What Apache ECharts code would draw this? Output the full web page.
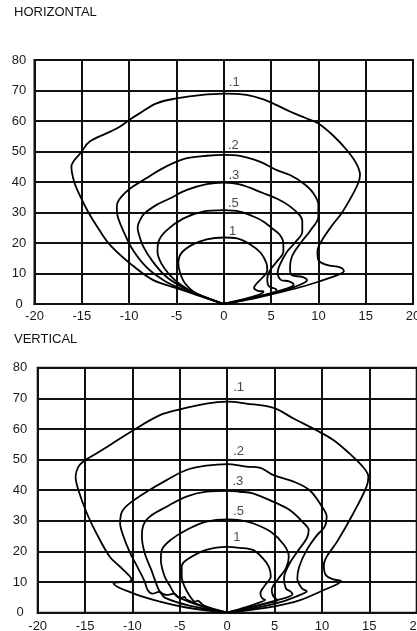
<!DOCTYPE html>
<html><head><meta charset="utf-8">
<script src="https://cdn.jsdelivr.net/npm/echarts@6/dist/echarts.min.js"></script>
<style>html,body{margin:0;padding:0;background:#fff}#c{width:417px;height:631px}</style>
</head><body><div id="c"></div>
<script>
// ---- data ----
const panelTitles = ['HORIZONTAL', 'VERTICAL'];
const xMin = -20, xMax = 20, xStep = 5;
const yMin = 0, yMax = 80, yStep = 10;
const curveNames = ['.1', '.2', '.3', '.5', '1'];

const hCurve01 = [[0,0],[-2.9,3.0],[-5.0,5.2],[-7.5,7.9],[-9.9,13.3],[-12.0,19.3],[-13.2,24.5],[-14.3,30],[-15.2,35.5],[-15.8,40],[-16.1,45],[-15.0,50],[-14.2,53.2],[-12.0,56.5],[-11,58.1],[-10,60.3],[-8.9,62.5],[-7.1,65.8],[-5,67.4],[-2.5,68.5],[0,69],[2.4,68.6],[4.2,67.1],[5.6,65.2],[7.0,63.1],[8.7,60.9],[10,59.2],[11.5,55.4],[13,50.5],[14,46.1],[14.4,42.3],[14.2,39.6],[13.5,35.2],[12.4,29.5],[11.6,26.4],[10.4,21],[9.9,17.2],[10,14.4],[10.9,12.8],[12.3,12.0],[12.7,10.8],[12.2,9.7],[10,7.3],[7.5,5.0],[4.9,3.1],[2.5,1.4],[0,0]];
const hCurve02 = [[0,0],[-2.9,3.2],[-4.6,5.1],[-6.4,7.9],[-8.2,12.2],[-9.6,17.7],[-10.5,23.2],[-11.2,28.6],[-11.3,31.9],[-11.1,34],[-10.4,36.5],[-9.6,38.5],[-8.2,41.2],[-6.8,43.9],[-5.4,46.1],[-3.9,47.8],[-1.8,48.6],[0,48.9],[1.7,48.6],[3.8,46.7],[5.6,43.9],[7,42.3],[8.4,39.6],[9.4,36.6],[10.0,32.5],[10,28.6],[9.2,24.3],[8.1,19.9],[7.2,15.5],[7.0,11.7],[7.2,9.4],[8.3,8.9],[8.8,7.8],[8.4,6.8],[7.3,5.4],[5,3.4],[2.5,1.5],[0,0]];
const hCurve03 = [[0,0],[-2.9,3.4],[-4.5,5.7],[-6.1,9.0],[-7.5,13.9],[-8.5,18.8],[-9.0,23.2],[-9.1,25.2],[-8.9,27.2],[-8.4,29.6],[-7.1,32.5],[-5.7,34.6],[-3.9,37.4],[-1.8,39.3],[0,39.8],[1.7,39.2],[4.2,36.3],[5.9,34.1],[7.0,32.0],[8.0,29.2],[8.3,27.2],[8.3,23.7],[7.6,20.4],[6.7,17.2],[6.0,13.3],[5.7,10.3],[6.0,8.0],[6.9,7.4],[7.4,6.3],[7.0,5.5],[5,3.6],[2.5,1.6],[0,0]];
const hCurve05 = [[0,0],[-2.9,3.3],[-4.5,6.2],[-5.7,9.5],[-6.6,13.3],[-7.0,17.2],[-6.9,20.4],[-6.1,24.0],[-4.3,28.0],[-2.2,30.3],[0,30.8],[1.7,30.3],[3.5,28.2],[4.3,26.8],[5.2,24.6],[5.9,22.8],[6.3,19.9],[6.3,17.2],[5.6,13.9],[4.9,11.1],[4.6,8.4],[4.75,5.9],[5.5,4.9],[5.6,4.1],[4.5,3.1],[2.5,1.7],[0,0]];
const hCurve1 = [[0,0],[-2.9,3.5],[-4.1,6.8],[-4.6,10.1],[-4.8,13.3],[-4.5,16.6],[-3.4,19.3],[-1.8,21.2],[0,21.8],[1.4,21.5],[2.8,19.5],[3.9,16.8],[4.5,13.5],[4.6,11.1],[4.2,9.0],[3.5,6.8],[3.2,5.3],[3.6,4.3],[4.2,4.1],[3.8,3.2],[2.5,1.9],[0,0]];

const vCurve01 = [[0,0],[-4.3,1.7],[-7.1,3.6],[-9.9,6.3],[-12,9.6],[-11.6,9.9],[-10.4,10.1],[-10.1,10.9],[-10.4,12.3],[-11.3,15],[-12.4,18.3],[-13.8,25.9],[-14.8,32.4],[-15.7,40],[-16,44.4],[-15.7,47.7],[-15,49.8],[-13.8,52],[-12.4,54.7],[-9.9,59.6],[-7.1,64.5],[-5,66.4],[-2.2,68.3],[0,68.9],[2,68.3],[4.9,66.9],[7,63.4],[9.4,59.6],[11.2,56.4],[12.9,52],[14.3,47.7],[14.9,44.4],[14.7,41.1],[13.3,32.4],[11.6,23.2],[10.5,18.3],[10.2,15.6],[10.4,12.3],[11.2,10.9],[12,10.4],[11.6,9.3],[10.2,7.4],[7.7,4.1],[5,2.1],[0,0]];
const vCurve02 = [[0,0],[-4,2.3],[-6.6,4.9],[-7.2,6.8],[-7.9,6.2],[-8.4,7.4],[-8.7,10.1],[-9.4,14.5],[-10.3,19.9],[-11,25.4],[-11.3,29.2],[-11.1,33],[-10.3,35.7],[-8.5,39.5],[-6.4,43.3],[-4.3,46.6],[-2.2,48],[0,48.5],[2,47.7],[3.4,47.4],[4.9,44.9],[7,42.8],[8.7,40],[9.9,35.1],[10.5,31.3],[10.3,28.1],[9.5,25.4],[8.4,20.5],[7.6,15],[7.4,11.2],[7.9,7.9],[8.4,7.0],[8.0,6.2],[6,3.8],[3,1.6],[0,0]];
const vCurve03 = [[0,0],[-2.5,1.9],[-5.1,4.9],[-5.6,6.2],[-6.4,5.8],[-7.1,6.9],[-7.5,9.6],[-8,13.9],[-8.7,19.4],[-9,24.8],[-8.9,28.1],[-8.2,31.3],[-6.4,34.6],[-4.3,37.9],[-2.2,39.5],[0,39.8],[1.3,39.5],[2.7,39],[4.9,36.2],[6.6,33.5],[8,29.5],[8.6,27],[8.4,24.3],[7.4,19.9],[6.5,15.6],[6,11.2],[6.2,7.9],[6.7,6.9],[6.9,6.0],[5,3.9],[2.5,1.8],[0,0]];
const vCurve05 = [[0,0],[-2.5,2.1],[-4.3,4.3],[-4.5,5.2],[-4.9,4.8],[-5.5,5.9],[-6,8.5],[-6.6,11.8],[-7,17.2],[-6.9,20.5],[-6,23.7],[-4.3,27],[-2.2,29.7],[0,30.5],[1.3,30.2],[2.7,29.2],[4.6,26.4],[6,22.1],[6.5,18.3],[6.2,14.5],[5.3,10.7],[4.7,7.4],[4.9,5.2],[5.3,4.1],[4.5,3.3],[2.5,1.8],[0,0]];
const vCurve1 = [[0,0],[-2.5,2.4],[-3.1,3.9],[-3.4,3.6],[-3.9,5.2],[-4.5,8.5],[-4.8,11.8],[-4.8,15],[-4.3,17.2],[-2.2,20.5],[0,21.5],[1.3,21.2],[2.7,20.5],[3.7,18.0],[4.4,15],[4.6,11.8],[4,9.0],[3.5,6.3],[3.7,4.7],[4.0,4.2],[3.3,3.2],[2,1.8],[0,0]];

const hLabelPos = [[0.53,72.8],[0.45,51.9],[0.5,42.2],[0.45,32.9],[0.56,23.9]];
const vLabelPos = [[0.63,73.4],[0.63,52.7],[0.55,42.8],[0.63,33.1],[0.63,24.5]];

const hCurves = [hCurve01, hCurve02, hCurve03, hCurve05, hCurve1];
const vCurves = [vCurve01, vCurve02, vCurve03, vCurve05, vCurve1];

// ---- chart ----
const FONT = '"Liberation Sans", Arial, sans-serif';
const lineColor = '#111';
const chart = echarts.init(document.getElementById('c'));

function xAxis(gi) {
  return {
    type: 'value', gridIndex: gi, min: xMin, max: xMax, interval: xStep,
    axisLine: { show: true, onZero: false, lineStyle: { color: lineColor, width: 2 } },
    axisTick: { show: false },
    splitLine: { show: true, lineStyle: { color: lineColor, width: 2 } },
    axisLabel: { margin: gi === 0 ? 6 : 7, fontFamily: FONT, fontSize: 13, color: '#1a1a1a' }
  };
}
function yAxis(gi) {
  return {
    type: 'value', gridIndex: gi, min: yMin, max: yMax, interval: yStep,
    axisLine: { show: true, lineStyle: { color: lineColor, width: 2 } },
    axisTick: { show: false },
    splitLine: { show: true, lineStyle: { color: lineColor, width: 2 } },
    axisLabel: { margin: gi === 0 ? 15.5 : 17.7, align: 'center', fontFamily: FONT, fontSize: 13, color: '#1a1a1a', padding: [3,0,0,0] }
  };
}

const series = [];
[hCurves, vCurves].forEach((set, gi) => {
  set.forEach((d) => {
    series.push({
      type: 'line', xAxisIndex: gi, yAxisIndex: gi, data: d, smooth: 0.35,
      showSymbol: false, symbol: 'none', clip: true,
      lineStyle: { color: '#000', width: 1.8 }, animation: false, z: 3
    });
  });
  const pos = gi === 0 ? hLabelPos : vLabelPos;
  series.push({
    type: 'scatter', xAxisIndex: gi, yAxisIndex: gi, symbolSize: 0, animation: false,
    data: pos.map((p, i) => ({ name: curveNames[i], value: p })),
    label: { show: true, position: 'right', distance: 0, formatter: '{b}',
      fontFamily: FONT, fontSize: 13, color: '#1a1a1a' }, z: 4
  });
});

chart.setOption({
  animation: false,
  backgroundColor: '#fff',
  graphic: [
    { type: 'text', left: 14, top: 6, style: { text: panelTitles[0], font: '13px "Liberation Sans", Arial, sans-serif', fill: '#111' } },
    { type: 'text', left: 14, top: 332.5, style: { text: panelTitles[1], font: '13px "Liberation Sans", Arial, sans-serif', fill: '#111' } }
  ],
  grid: [
    { left: 34.5, top: 60, width: 378.5, height: 244, show: true, borderColor: lineColor, borderWidth: 2, containLabel: false, outerBoundsMode: 'none' },
    { left: 37.7, top: 367.7, width: 379, height: 245, show: true, borderColor: lineColor, borderWidth: 2, containLabel: false, outerBoundsMode: 'none' }
  ],
  xAxis: [xAxis(0), xAxis(1)],
  yAxis: [yAxis(0), yAxis(1)],
  series: series
});
</script></body></html>
